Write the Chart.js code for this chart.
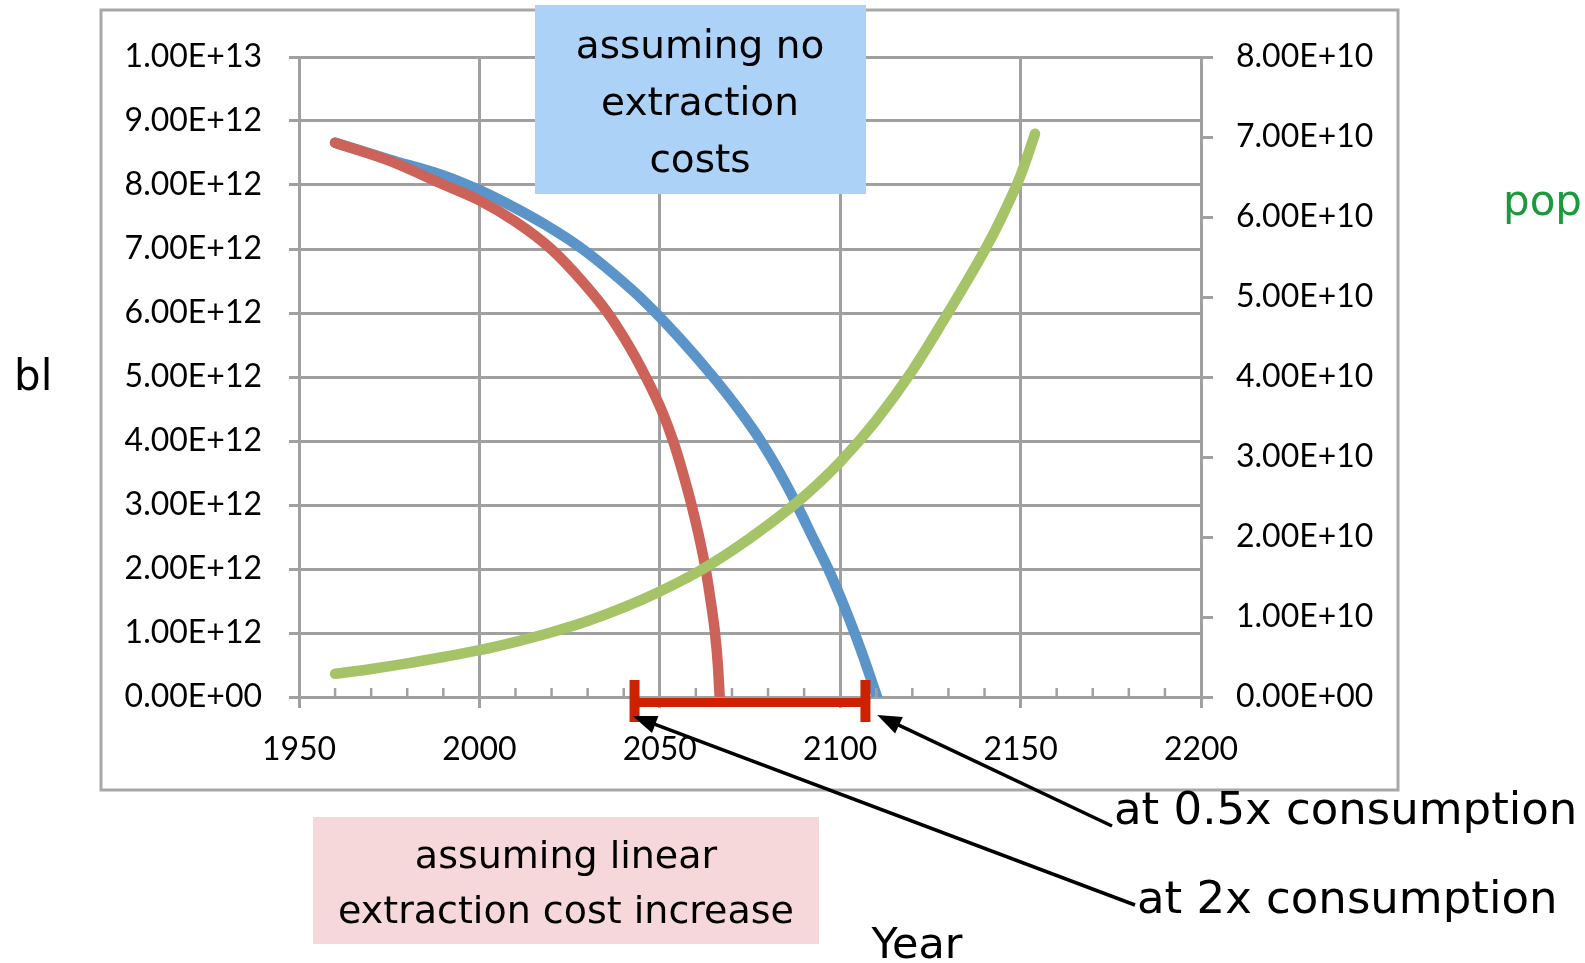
<!DOCTYPE html>
<html>
<head>
<meta charset="utf-8">
<title>Reserves vs population</title>
<script src="https://cdn.jsdelivr.net/npm/chart.js@4.4.1/dist/chart.umd.min.js"></script>
<style>
  html, body { margin: 0; padding: 0; background: #fff; }
  canvas { display: block; }
</style>
</head>
<body>
<canvas id="chart" width="1585" height="963"></canvas>
<script>
'use strict';

// Red: linear extraction cost increase (left axis)
const redYears = [1960, 1975, 1989.5, 2000, 2010.2, 2019.9, 2028.4, 2035.6, 2041.6, 2046.3, 2050.5, 2053.7,
  2056.4, 2058.8, 2060.9, 2062.7, 2064.1, 2065.3, 2066.1, 2066.6];
const redValues = [8.66e12, 8.38e12, 8.02e12, 7.76e12, 7.42e12, 7.0e12, 6.5e12, 6.0e12, 5.47e12, 4.98e12,
  4.48e12, 4.0e12, 3.5e12, 3.0e12, 2.5e12, 2.0e12, 1.5e12, 1.0e12, 0.5e12, 0];

// Blue: no extraction costs (left axis)
const blueYears = [1960, 1975, 1990, 2000, 2009.3, 2018.5, 2027.8, 2037, 2046.3, 2055.6, 2064.8, 2071.5,
  2078, 2083.3, 2088, 2092.5, 2096.7, 2100.5, 2104, 2107.2, 2110.2];
const blueValues = [8.66e12, 8.40e12, 8.15e12, 7.92e12, 7.66e12, 7.37e12, 7.03e12, 6.62e12, 6.15e12, 5.60e12,
  5.0e12, 4.52e12, 4.0e12, 3.5e12, 3.0e12, 2.48e12, 2.0e12, 1.5e12, 1.0e12, 0.5e12, 0];

// Green: population (right axis)
const popYears = [1960, 1970, 1980, 1990, 2000, 2010, 2020, 2030, 2040, 2050, 2060, 2070, 2080, 2090,
  2100, 2110, 2120, 2130, 2140, 2145, 2150, 2154];
const popValues = [2.9e9, 3.5e9, 4.2e9, 5.0e9, 5.85e9, 6.9e9, 8.1e9, 9.5e9, 11.2e9, 13.2e9, 15.5e9, 18.3e9,
  21.5e9, 25.1e9, 29.4e9, 34.6e9, 40.8e9, 48.1e9, 55.8e9, 60.2e9, 65.2e9, 70.4e9];

const xTickLabels = ['1950', '2000', '2050', '2100', '2150', '2200'];
const leftTickLabels = ['0.00E+00', '1.00E+12', '2.00E+12', '3.00E+12', '4.00E+12', '5.00E+12',
  '6.00E+12', '7.00E+12', '8.00E+12', '9.00E+12', '1.00E+13'];
const rightTickLabels = ['0.00E+00', '1.00E+10', '2.00E+10', '3.00E+10', '4.00E+10',
  '5.00E+10', '6.00E+10', '7.00E+10', '8.00E+10'];
const minorYears = [1960, 1970, 1980, 1990, 2010, 2020, 2030, 2040, 2060, 2070, 2080, 2090,
  2110, 2120, 2130, 2140, 2160, 2170, 2180, 2190];
const bracketYears = [2043, 2107];

const toPoints = (xs, ys) => xs.map((x, i) => ({ x, y: ys[i] }));

const gridColor = '#a0a0a0';
const tickFont = { family: 'Lato', size: 32 };
const noteFont = 'DejaVu Sans';

// Rahmen, Kästen, Pfeile und Beschriftungen
const notes = {
  id: 'notes',
  beforeDraw(chart) {
    const ctx = chart.ctx;
    ctx.save();
    ctx.fillStyle = '#fff';
    ctx.fillRect(0, 0, chart.width, chart.height);
    ctx.strokeStyle = '#a8a8a8';
    ctx.lineWidth = 3;
    ctx.strokeRect(101, 10, 1297, 780);
    ctx.restore();
  },
  afterDraw(chart) {
    const ctx = chart.ctx;
    const xs = chart.scales.x;
    const area = chart.chartArea;
    ctx.save();

    // minor ticks inside the x axis
    ctx.strokeStyle = gridColor;
    ctx.lineWidth = 2.5;
    minorYears.forEach(yr => {
      const px = xs.getPixelForValue(yr);
      ctx.beginPath();
      ctx.moveTo(px, area.bottom);
      ctx.lineTo(px, area.bottom - 9);
      ctx.stroke();
    });

    // red bracket below the axis
    const b0 = xs.getPixelForValue(bracketYears[0]);
    const b1 = xs.getPixelForValue(bracketYears[1]);
    ctx.fillStyle = '#cc2200';
    ctx.fillRect(b0, area.bottom + 1, b1 - b0, 9);
    ctx.fillRect(b0 - 5, area.bottom - 17, 10, 42);
    ctx.fillRect(b1 - 5, area.bottom - 17, 10, 42);

    // boxes
    ctx.fillStyle = '#acd3f7';
    ctx.fillRect(535, 5, 331, 189);
    ctx.fillStyle = '#f6d8db';
    ctx.fillRect(313, 817, 506, 127);

    ctx.fillStyle = '#000';
    ctx.textBaseline = 'middle';
    ctx.textAlign = 'center';
    ctx.font = `39px ${noteFont}`;
    ctx.fillText('assuming no', 700, 48);
    ctx.fillText('extraction', 700, 105);
    ctx.fillText('costs', 700, 162);
    ctx.font = `38px ${noteFont}`;
    ctx.fillText('assuming linear', 566, 858);
    ctx.fillText('extraction cost increase', 566, 913);
    ctx.font = `43px ${noteFont}`;
    ctx.fillText('Year', 917, 947);

    ctx.textAlign = 'left';
    ctx.font = `42px ${noteFont}`;
    ctx.fillText('bl', 14, 379);
    ctx.fillStyle = '#1b9a3b';
    ctx.fillText('pop', 1503, 204);

    ctx.fillStyle = '#000';
    ctx.font = `45px ${noteFont}`;
    ctx.fillText('at 0.5x consumption', 1114, 812);
    ctx.fillText('at 2x consumption', 1137, 901);

    // arrows
    const arrow = (x0, y0, x1, y1) => {
      const ang = Math.atan2(y1 - y0, x1 - x0);
      const len = 24, half = 9;
      ctx.strokeStyle = '#000';
      ctx.lineWidth = 3.5;
      ctx.beginPath();
      ctx.moveTo(x0, y0);
      ctx.lineTo(x1 - len * 0.7 * Math.cos(ang), y1 - len * 0.7 * Math.sin(ang));
      ctx.stroke();
      ctx.fillStyle = '#000';
      ctx.beginPath();
      ctx.moveTo(x1, y1);
      ctx.lineTo(x1 - len * Math.cos(ang) + half * Math.sin(ang), y1 - len * Math.sin(ang) - half * Math.cos(ang));
      ctx.lineTo(x1 - len * Math.cos(ang) - half * Math.sin(ang), y1 - len * Math.sin(ang) + half * Math.cos(ang));
      ctx.closePath();
      ctx.fill();
    };
    arrow(1112, 826, xs.getPixelForValue(2110) + 1, area.bottom + 18);
    arrow(1135, 905, xs.getPixelForValue(2042.5), area.bottom + 19);

    ctx.restore();
  },
};

const lineStyle = {
  pointRadius: 0,
  borderWidth: 10.5,
  borderCapStyle: 'round',
  borderJoinStyle: 'round',
  cubicInterpolationMode: 'monotone',
  fill: false,
};

new Chart(document.getElementById('chart').getContext('2d'), {
  type: 'line',
  data: {
    datasets: [
      { ...lineStyle, label: 'pop', data: toPoints(popYears, popValues), borderColor: '#a5c468', yAxisID: 'y1' },
      { ...lineStyle, label: 'linear cost', data: toPoints(redYears, redValues), borderColor: '#cd6259', yAxisID: 'y' },
      { ...lineStyle, label: 'no cost', data: toPoints(blueYears, blueValues), borderColor: '#5b94c9', yAxisID: 'y' },
    ],
  },
  options: {
    responsive: false,
    animation: false,
    layout: { padding: { top: 57, left: 0, right: 0, bottom: 0 } },
    plugins: { legend: { display: false }, tooltip: { enabled: false } },
    scales: {
      x: {
        type: 'linear',
        min: 1950,
        max: 2200,
        afterFit: s => { s.height = 266; },
        ticks: { stepSize: 50, color: '#000', font: tickFont, padding: 22, maxRotation: 0,
          callback: (v, i) => xTickLabels[i] },
        grid: { color: gridColor, lineWidth: 3, tickLength: 11 },
        border: { color: gridColor, width: 3 },
      },
      y: {
        position: 'left',
        min: 0,
        max: 1e13,
        afterFit: s => { s.width = 299; },
        ticks: { stepSize: 1e12, color: '#000', font: tickFont, padding: 27,
          callback: (v, i) => leftTickLabels[i] },
        grid: { color: gridColor, lineWidth: 3, tickLength: 10 },
        border: { color: gridColor, width: 3 },
      },
      y1: {
        position: 'right',
        min: 0,
        max: 8e10,
        afterFit: s => { s.width = 384; },
        ticks: { stepSize: 1e10, color: '#000', font: tickFont, padding: 23,
          callback: (v, i) => rightTickLabels[i] },
        grid: { color: gridColor, lineWidth: 3, tickLength: 12, drawOnChartArea: false },
        border: { color: gridColor, width: 3 },
      },
    },
  },
  plugins: [notes],
});
</script>
</body>
</html>
